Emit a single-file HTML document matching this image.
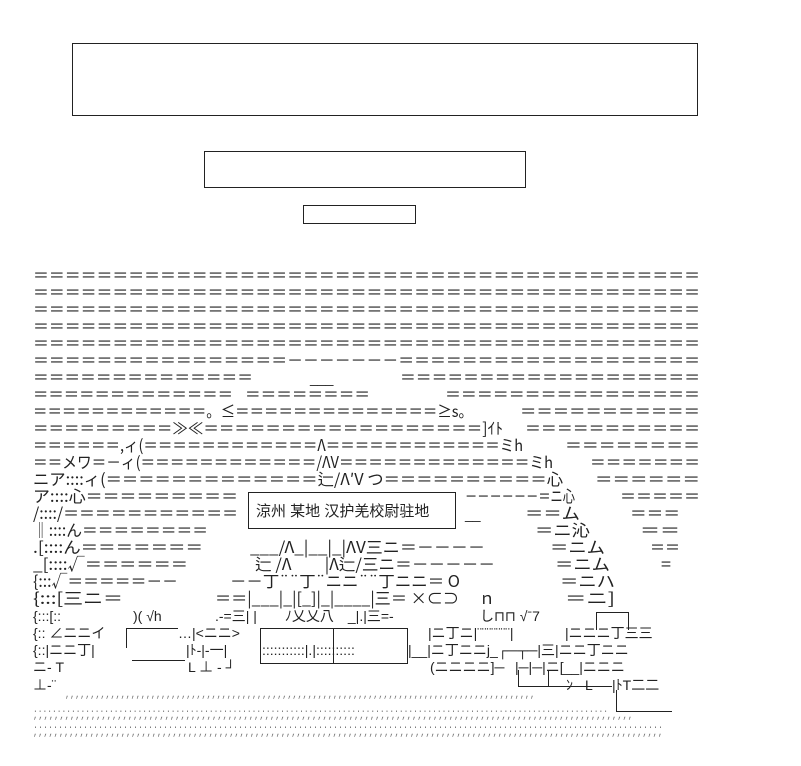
<!DOCTYPE html>
<html><head><meta charset="utf-8"><style>
html,body{margin:0;padding:0;background:#fff;width:801px;height:766px;overflow:hidden}
svg{display:block}
.e{font-family:"Noto Sans CJK JP","Liberation Sans",sans-serif;font-size:16px;fill:#222}
.s{font-family:"Liberation Sans","Noto Sans CJK JP",sans-serif;font-size:14px;fill:#222}
.d{font-family:"Liberation Mono",monospace;font-size:10px;fill:#777}
</style></head><body>
<svg width="801" height="766" xmlns="http://www.w3.org/2000/svg">
<g fill="none" stroke="#222" stroke-width="1">
<path d="M72.5 43.5H697.5V115.5H72.5Z"/>
<path d="M204.5 151.5H525.5V187.5H204.5Z"/>
<path d="M303.5 205.5H415.5V223.5H303.5Z"/>
<path d="M248.5 492.5H455.5V528.5H248.5Z"/>
<!-- buildings -->
<path d="M126.5 648V628.5H178M126.5 648M132 660.5H185"/>
<path d="M260.5 628.5H407.5M260.5 628V664M260.5 663.5H407.5M407.5 628V664M333.5 628V664"/>
<path d="M596.5 630V612.5H628.5V630"/>
<path d="M518.5 686.5H612M518.5 670V687M548.5 670V687"/>
<path d="M616.5 690V712M616.5 711.5H672"/>
</g>
<g class="e">
<text x="33" y="281" textLength="667" lengthAdjust="spacingAndGlyphs">＝＝＝＝＝＝＝＝＝＝＝＝＝＝＝＝＝＝＝＝＝＝＝＝＝＝＝＝＝＝＝＝＝＝＝＝＝＝＝＝＝＝</text>
<text x="33" y="298" textLength="667" lengthAdjust="spacingAndGlyphs">＝＝＝＝＝＝＝＝＝＝＝＝＝＝＝＝＝＝＝＝＝＝＝＝＝＝＝＝＝＝＝＝＝＝＝＝＝＝＝＝＝＝</text>
<text x="33" y="315" textLength="667" lengthAdjust="spacingAndGlyphs">＝＝＝＝＝＝＝＝＝＝＝＝＝＝＝＝＝＝＝＝＝＝＝＝＝＝＝＝＝＝＝＝＝＝＝＝＝＝＝＝＝＝</text>
<text x="33" y="332" textLength="667" lengthAdjust="spacingAndGlyphs">＝＝＝＝＝＝＝＝＝＝＝＝＝＝＝＝＝＝＝＝＝＝＝＝＝＝＝＝＝＝＝＝＝＝＝＝＝＝＝＝＝＝</text>
<text x="33" y="349" textLength="667" lengthAdjust="spacingAndGlyphs">＝＝＝＝＝＝＝＝＝＝＝＝＝＝＝＝＝＝＝＝＝＝＝＝＝＝＝＝＝＝＝＝＝＝＝＝＝＝＝＝＝＝</text>
<text x="33" y="366" textLength="667" lengthAdjust="spacingAndGlyphs">＝＝＝＝＝＝＝＝＝＝＝＝＝＝＝＝－－－－－－－＝＝＝＝＝＝＝＝＝＝＝＝＝＝＝＝＝＝＝</text>
<text x="33" y="383" textLength="220" lengthAdjust="spacingAndGlyphs">＝＝＝＝＝＝＝＝＝＝＝＝＝＝</text>
<text x="310" y="383" class="s">___</text>
<text x="400" y="383" textLength="300" lengthAdjust="spacingAndGlyphs">＝＝＝＝＝＝＝＝＝＝＝＝＝＝＝＝＝＝＝</text>
<text x="33" y="400" textLength="200" lengthAdjust="spacingAndGlyphs">＝＝＝＝＝＝＝＝＝＝＝＝＝</text>
<text x="245" y="400" textLength="125" lengthAdjust="spacingAndGlyphs">＝＝＝＝＝＝＝＝</text>
<text x="445" y="400" textLength="255" lengthAdjust="spacingAndGlyphs">＝＝＝＝＝＝＝＝＝＝＝＝＝＝＝＝</text>
<text x="33" y="417" textLength="440" lengthAdjust="spacingAndGlyphs">＝＝＝＝＝＝＝＝＝＝＝＝。≤＝＝＝＝＝＝＝＝＝＝＝＝＝＝≥s。</text>
<text x="520" y="417" textLength="180" lengthAdjust="spacingAndGlyphs">＝＝＝＝＝＝＝＝＝＝＝</text>
<text x="33" y="434" textLength="470" lengthAdjust="spacingAndGlyphs">＝＝＝＝＝＝＝＝＝≫≪＝＝＝＝＝＝＝＝＝＝＝＝＝＝＝＝＝＝]ｲﾄ</text>
<text x="525" y="434" textLength="175" lengthAdjust="spacingAndGlyphs">＝＝＝＝＝＝＝＝＝＝＝</text>
<text x="33" y="451" textLength="490" lengthAdjust="spacingAndGlyphs">＝＝＝＝＝＝,ィ(＝＝＝＝＝＝＝＝＝＝＝＝Λ＝＝＝＝＝＝＝＝＝＝＝＝ミh</text>
<text x="565" y="451" textLength="135" lengthAdjust="spacingAndGlyphs">＝＝＝＝＝＝＝＝</text>
<text x="33" y="468" textLength="520" lengthAdjust="spacingAndGlyphs">＝＝メワ＝－ィ(＝＝＝＝＝＝＝＝＝＝＝＝/ΛV＝＝＝＝＝＝＝＝＝＝＝＝＝ミh</text>
<text x="590" y="468" textLength="110" lengthAdjust="spacingAndGlyphs">＝＝＝＝＝＝＝</text>
<text x="33" y="485" textLength="530" lengthAdjust="spacingAndGlyphs">ニア::::ィ(＝＝＝＝＝＝＝＝＝＝＝＝＝辷/Λ′V つ＝＝＝＝＝＝＝＝＝＝心</text>
<text x="595" y="485" textLength="105" lengthAdjust="spacingAndGlyphs">＝＝＝＝＝＝</text>
<text x="33" y="502" textLength="205" lengthAdjust="spacingAndGlyphs">ア::::心＝＝＝＝＝＝＝＝＝</text>
<text x="465" y="502" textLength="110" lengthAdjust="spacingAndGlyphs">－－－－－－＝ニ心</text>
<text x="620" y="502" textLength="80" lengthAdjust="spacingAndGlyphs">＝＝＝＝＝</text>
<text x="33" y="519" textLength="205" lengthAdjust="spacingAndGlyphs">/::::/＝＝＝＝＝＝＝＝＝＝＝</text>
<text x="465" y="519" class="s">__</text>
<text x="525" y="519" textLength="55" lengthAdjust="spacingAndGlyphs">＝＝ム</text>
<text x="630" y="519" textLength="50" lengthAdjust="spacingAndGlyphs">＝＝＝</text>
<text x="33" y="536" textLength="175" lengthAdjust="spacingAndGlyphs">‖::::ん＝＝＝＝＝＝＝＝</text>
<text x="535" y="536" textLength="55" lengthAdjust="spacingAndGlyphs">＝ニ沁</text>
<text x="640" y="536" textLength="40" lengthAdjust="spacingAndGlyphs">＝＝</text>
<text x="33" y="553" textLength="170" lengthAdjust="spacingAndGlyphs">.[::::ん＝＝＝＝＝＝＝</text>
<text x="250" y="553" textLength="235" lengthAdjust="spacingAndGlyphs">___/Λ_|__|_|ΛV三ニ＝－－－－</text>
<text x="550" y="553" textLength="55" lengthAdjust="spacingAndGlyphs">＝ニム</text>
<text x="650" y="553" textLength="30" lengthAdjust="spacingAndGlyphs">＝＝</text>
<text x="33" y="570" textLength="155" lengthAdjust="spacingAndGlyphs">_[::::√＝＝＝＝＝＝</text>
<text x="255" y="570" textLength="240" lengthAdjust="spacingAndGlyphs">辷 /Λ　　|Λ辷/三ニ＝－－－－－</text>
<text x="555" y="570" textLength="55" lengthAdjust="spacingAndGlyphs">＝ニム</text>
<text x="660" y="570" textLength="12" lengthAdjust="spacingAndGlyphs">＝</text>
<text x="33" y="587" textLength="145" lengthAdjust="spacingAndGlyphs">{:::√＝＝＝＝＝－－</text>
<text x="230" y="587" textLength="230" lengthAdjust="spacingAndGlyphs">－－丁¨¨丁¨ニニ¨¨丁ニニ＝ O</text>
<text x="560" y="587" textLength="55" lengthAdjust="spacingAndGlyphs">＝ニハ</text>
<text x="33" y="604" textLength="90" lengthAdjust="spacingAndGlyphs">{:::[三ニ＝</text>
<text x="215" y="604" textLength="280" lengthAdjust="spacingAndGlyphs">＝＝|___|_|[_]|_|____|三＝ ×⊂⊃　 ｎ</text>
<text x="565" y="604" textLength="50" lengthAdjust="spacingAndGlyphs">＝ニ]</text>
</g>
<g class="s">
<text x="33" y="621">{:::[::</text>
<text x="133" y="621">)(  √h</text>
<text x="215" y="621">.-=三| |　　ﾉ乂乂八　_|.|三=-</text>
<text x="480" y="621">し⊓⊓  √ˉ7</text>
<text x="33" y="638">{:: ∠ニニイ</text>
<text x="178" y="638">…|&lt;ニニ&gt;</text>
<text x="428" y="638">|ニ丁ニ|¨¨¨¨¨¨¨|</text>
<text x="565" y="638">|ニニニ丁三三</text>
<text x="33" y="655">{::|ニニ丁|</text>
<text x="186" y="655">|ﾄ-|-一|</text>
<text x="262" y="655">:::::::::::|.|::::::::::</text>
<text x="408" y="655">|__|ニ丁ニニj_┌─┬─|三|ニニ丁ニニ</text>
<text x="33" y="672">ニ- T</text>
<text x="188" y="672">L  ⊥  -  ┘</text>
<text x="430" y="672">(ニニニニ]─</text>
<text x="515" y="672">|─|─|ニ[__|ニニニ</text>
<text x="33" y="690">⊥-¨</text>
<text x="566" y="690">ﾝ</text>
<text x="585" y="690">L</text>
<text x="612" y="690">|ﾄT二二</text>
</g>
<g class="d">
<text x="65" y="697" textLength="470" lengthAdjust="spacingAndGlyphs">,,,,,,,,,,,,,,,,,,,,,,,,,,,,,,,,,,,,,,,,,,,,,,,,,,,,,,,,,,,,,,,,,,,,,,,,,,,,,,,,,,,,,,,,,,,,,</text>
<text x="33" y="712" textLength="575" lengthAdjust="spacingAndGlyphs">.........................................................................................................................</text>
<text x="33" y="718" textLength="600" lengthAdjust="spacingAndGlyphs">,,,,,,,,,,,,,,,,,,,,,,,,,,,,,,,,,,,,,,,,,,,,,,,,,,,,,,,,,,,,,,,,,,,,,,,,,,,,,,,,,,,,,,,,,,,,,,,,,,,,,,,,,,,,,,,,,,</text>
<text x="33" y="728" textLength="630" lengthAdjust="spacingAndGlyphs">..............................................................................................................................</text>
<text x="33" y="735" textLength="630" lengthAdjust="spacingAndGlyphs">,,,,,,,,,,,,,,,,,,,,,,,,,,,,,,,,,,,,,,,,,,,,,,,,,,,,,,,,,,,,,,,,,,,,,,,,,,,,,,,,,,,,,,,,,,,,,,,,,,,,,,,,,,,,,,,,,,,,,,,,,,</text>
</g>
<text x="256" y="516" style="font-family:'Liberation Sans','Noto Sans CJK SC',sans-serif;font-size:15px;fill:#222">涼州 某地 汉护羌校尉驻地</text>
</svg>
</body></html>
